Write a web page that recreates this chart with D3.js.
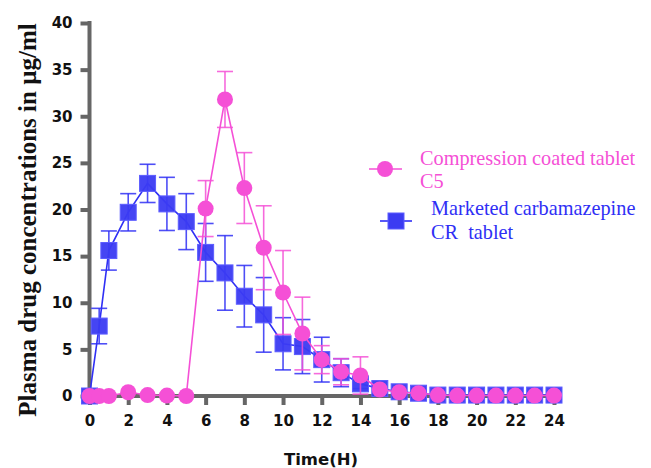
<!DOCTYPE html>
<html>
<head>
<meta charset="utf-8">
<script src="https://cdn.jsdelivr.net/npm/d3@7"></script>
<style>
  body { margin: 0; background: #fff; }
  svg { display: block; }
</style>
</head>
<body>
<script>
// sampling times (hours)
var times = [0, 0.5, 1, 2, 3, 4, 5, 6, 7, 8, 9, 10, 11, 12, 13, 14, 15, 16, 17, 18, 19, 20, 21, 22, 23, 24];

// compression coated tablet C5
var c5Mean = [0, 0, 0, 0.4, 0.1, 0.05, 0, 20.1, 31.8, 22.3, 15.9, 11.1, 6.7, 3.9, 2.6, 2.2, 0.7, 0.4, 0.3, 0.1, 0.05, 0.05, 0.05, 0.05, 0.05, 0.05];
var c5Sd   = [0, 0, 0, 0, 0, 0, 0, 3.0, 3.0, 3.8, 4.5, 4.5, 3.9, 1.5, 1.4, 2.0, 0, 0, 0, 0, 0, 0, 0, 0, 0, 0];

// marketed carbamazepine CR tablet
var crMean = [0, 7.5, 15.6, 19.7, 22.8, 20.6, 18.7, 15.4, 13.2, 10.7, 8.7, 5.6, 5.3, 3.9, 2.5, 1.3, 0.8, 0.45, 0.3, 0.1, 0.1, 0.1, 0.1, 0.1, 0.1, 0.1];
var crSd   = [0, 1.9, 2.1, 2.0, 2.05, 2.85, 3.0, 3.1, 4.0, 3.3, 4.0, 2.8, 2.9, 2.4, 1.5, 0.5, 0, 0, 0, 0, 0, 0, 0, 0, 0, 0];

var xTicks = d3.range(0, 25, 2);
var yTicks = d3.range(0, 41, 5);

var seriesNames = ['Compression coated tablet', 'Marketed carbamazepine'];

var pink = '#f550d6';
var blue = '#2f2ff5';

var width = 651, height = 468;
var svg = d3.select('body').append('svg')
  .attr('width', width)
  .attr('height', height);

var x = d3.scaleLinear().domain([0, 24]).range([89.5, 554]);
var y = d3.scaleLinear().domain([0, 40]).range([396, 23]);

var tickFont = 'DejaVu Sans, Verdana, sans-serif';

// axes
var axisColor = '#666';
var gx = svg.append('g')
  .attr('transform', 'translate(0,396)')
  .call(d3.axisBottom(x).tickValues(xTicks).tickSize(9).tickSizeOuter(0).tickPadding(10));
gx.select('.domain').attr('stroke', axisColor).attr('stroke-width', 4)
  .attr('d', 'M' + (x(0) - 2) + ',0H' + (x(24) + 4));
gx.selectAll('.tick line').attr('stroke', axisColor).attr('stroke-width', 4);
gx.selectAll('.tick text')
  .attr('fill', '#111')
  .style('font-family', tickFont)
  .style('font-weight', 'bold')
  .style('font-size', '15px');

var gy = svg.append('g')
  .attr('transform', 'translate(89.5,0)')
  .call(d3.axisLeft(y).tickValues(yTicks).tickSize(9).tickSizeOuter(0).tickPadding(8));
gy.select('.domain').attr('stroke', axisColor).attr('stroke-width', 4)
  .attr('d', 'M0,' + (y(0) + 2) + 'V' + (y(40) - 2));
gy.selectAll('.tick line').attr('stroke', axisColor).attr('stroke-width', 4);
gy.selectAll('.tick text')
  .attr('fill', '#111')
  .style('font-family', tickFont)
  .style('font-weight', 'bold')
  .style('font-size', '15px');

// axis titles
svg.append('text')
  .attr('transform', 'translate(35.5,220) rotate(-90)')
  .attr('text-anchor', 'middle')
  .style('font-family', 'Liberation Serif, Times New Roman, serif')
  .style('font-weight', 'bold')
  .style('font-size', '25px')
  .attr('fill', '#111')
  .text('Plasma drug concentrations in \u00b5g/ml');

svg.append('text')
  .attr('x', 321)
  .attr('y', 465)
  .attr('text-anchor', 'middle')
  .style('font-family', tickFont)
  .style('font-weight', 'bold')
  .style('font-size', '16.5px')
  .attr('fill', '#111')
  .text('Time(H)');

function drawSeries(mean, sd, color, shape) {
  var pts = times.map(function(t, i) { return {t: t, m: mean[i], s: sd[i]}; });
  var g = svg.append('g');

  g.append('path')
    .datum(pts)
    .attr('fill', 'none')
    .attr('stroke', color)
    .attr('stroke-width', 1.6)
    .attr('d', d3.line().x(function(d) { return x(d.t); }).y(function(d) { return y(d.m); }));

  var eb = g.selectAll('.eb').data(pts.filter(function(d) { return d.s > 0; }))
    .enter().append('g')
    .attr('stroke', color)
    .attr('stroke-width', 1.6)
    .attr('stroke-opacity', 0.85);
  eb.append('line')
    .attr('x1', function(d) { return x(d.t); }).attr('x2', function(d) { return x(d.t); })
    .attr('y1', function(d) { return y(d.m + d.s); }).attr('y2', function(d) { return y(d.m - d.s); });
  [1, -1].forEach(function(k) {
    eb.append('line')
      .attr('x1', function(d) { return x(d.t) - 8; }).attr('x2', function(d) { return x(d.t) + 8; })
      .attr('y1', function(d) { return y(d.m + k * d.s); }).attr('y2', function(d) { return y(d.m + k * d.s); });
  });

  if (shape === 'square') {
    g.selectAll('.mk').data(pts).enter().append('rect')
      .attr('x', function(d) { return x(d.t) - 8; })
      .attr('y', function(d) { return y(d.m) - 8; })
      .attr('width', 16).attr('height', 16)
      .attr('fill', '#3b3bf2')
      .attr('fill-opacity', 0.95)
      .attr('stroke', '#5c5cff')
      .attr('stroke-width', 1);
  } else {
    g.selectAll('.mk').data(pts).enter().append('circle')
      .attr('cx', function(d) { return x(d.t); })
      .attr('cy', function(d) { return y(d.m); })
      .attr('r', 8)
      .attr('fill', color);
  }
}

drawSeries(crMean, crSd, blue, 'square');
drawSeries(c5Mean, c5Sd, pink, 'circle');

// legend
var leg = svg.append('g')
  .style('font-family', 'Liberation Serif, Times New Roman, serif')
  .style('font-size', '20.3px');

leg.append('line').attr('x1', 369).attr('x2', 402).attr('y1', 169).attr('y2', 169)
  .attr('stroke', pink).attr('stroke-width', 1.6);
leg.append('circle').attr('cx', 385).attr('cy', 169).attr('r', 8).attr('fill', pink);
leg.append('text').attr('x', 420).attr('y', 165).attr('fill', pink).text(seriesNames[0]);
leg.append('text').attr('x', 420).attr('y', 188).attr('fill', pink).text('C5');

leg.append('line').attr('x1', 380).attr('x2', 412).attr('y1', 221).attr('y2', 221)
  .attr('stroke', blue).attr('stroke-width', 1.6);
leg.append('rect').attr('x', 388).attr('y', 213).attr('width', 16).attr('height', 16)
  .attr('fill', '#3b3bf2').attr('stroke', '#5c5cff').attr('stroke-width', 1);
leg.append('text').attr('x', 431).attr('y', 215).attr('fill', blue).text(seriesNames[1]);
leg.append('text').attr('x', 431).attr('y', 239).attr('fill', blue).text('CR  tablet').style('white-space', 'pre');
</script>
</body>
</html>
